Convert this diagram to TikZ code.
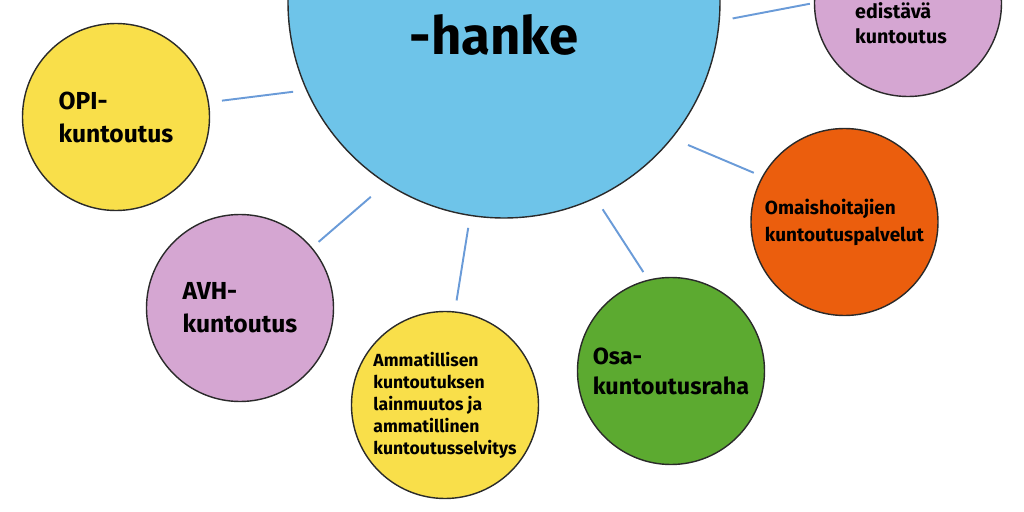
\documentclass[tikz,border=0pt]{standalone}
\usepackage{fontspec}
\setmainfont{Fira Sans}
\usetikzlibrary{shapes.geometric}
\definecolor{hubblue}{HTML}{6EC4E9}
\definecolor{kyellow}{HTML}{F9DF4A}
\definecolor{klilac}{HTML}{D5A6D2}
\definecolor{korange}{HTML}{EB5E0D}
\definecolor{kgreen}{HTML}{5CAA30}
\definecolor{kline}{HTML}{2A2A2A}
\definecolor{linkblue}{HTML}{6A9BD8}
\tikzstyle{hub} = [circle, minimum size=8.64cm, inner sep=0pt, draw=kline, line width=0.8pt, fill=hubblue]
\tikzstyle{bubble} = [circle, minimum size=3.74cm, inner sep=0pt, draw=kline, line width=0.8pt,
align=left, text=black]
\tikzstyle{link} = [line width=1.1pt, draw=linkblue, shorten <=0.24cm, shorten >=0.22cm]

\begin{document}
\begin{tikzpicture}

\useasboundingbox (0,0) rectangle (20.48,10.24);
\clip (0,0) rectangle (20.48,10.24);

% ------------------------- nodes -------------------------

% ----- node: 0
\node(0)[hub, label={[xshift=-0.2cm, yshift=-0.66cm, font=\bfseries\fontsize{30}{36}\selectfont]center:{-hanke}}] at (10.08,10.20) {};
% ----- node: 1
\node(1)[bubble, fill=kyellow, font=\bfseries\fontsize{14}{18.8}\selectfont] at (2.32,7.90) {OPI-\\kuntoutus};
% ----- node: 2
\node(2)[bubble, fill=klilac, font=\bfseries\fontsize{14}{18.8}\selectfont] at (4.80,4.08) {AVH-\\kuntoutus};
% ----- node: 3
\node(3)[bubble, fill=kyellow, font=\bfseries\fontsize{10}{12.5}\selectfont] at (8.90,2.14) {Ammatillisen\\kuntoutuksen\\lainmuutos ja\\ammatillinen\\kuntoutusselvitys};
% ----- node: 4
\node(4)[bubble, fill=kgreen, font=\bfseries\fontsize{13.3}{17}\selectfont] at (13.42,2.82) {Osa-\\kuntoutusraha};
% ----- node: 5
\node(5)[bubble, fill=korange, font=\bfseries\fontsize{10.8}{15.4}\selectfont] at (16.89,5.80) {Omaishoitajien\\kuntoutuspalvelut};
% ----- node: 6
\node(6)[bubble, fill=klilac, label={[xshift=-0.14cm, yshift=-0.40cm, align=left, font=\bfseries\fontsize{11.2}{14.2}\selectfont]center:{edistävä\\kuntoutus}}] at (18.16,10.18) {};

% ------------------------- links -------------------------

\draw[link, shorten <=0.26cm, shorten >=0.26cm] (0.204) -- (1.9);
\draw[link, shorten <=0.40cm, shorten >=0.17cm] (0.237.5) -- (2.40);
\draw[link] (0.261) -- (3.84);
\draw[link, shorten <=0.26cm, shorten >=0.18cm] (0.295) -- (4.104);
\draw[link, shorten <=0.34cm, shorten >=0.18cm] (0.321) -- (5.151);
\draw[link, shorten <=0.26cm, shorten >=0.08cm] (0.-5.5) -- (6.180);

\end{tikzpicture}
\end{document}
